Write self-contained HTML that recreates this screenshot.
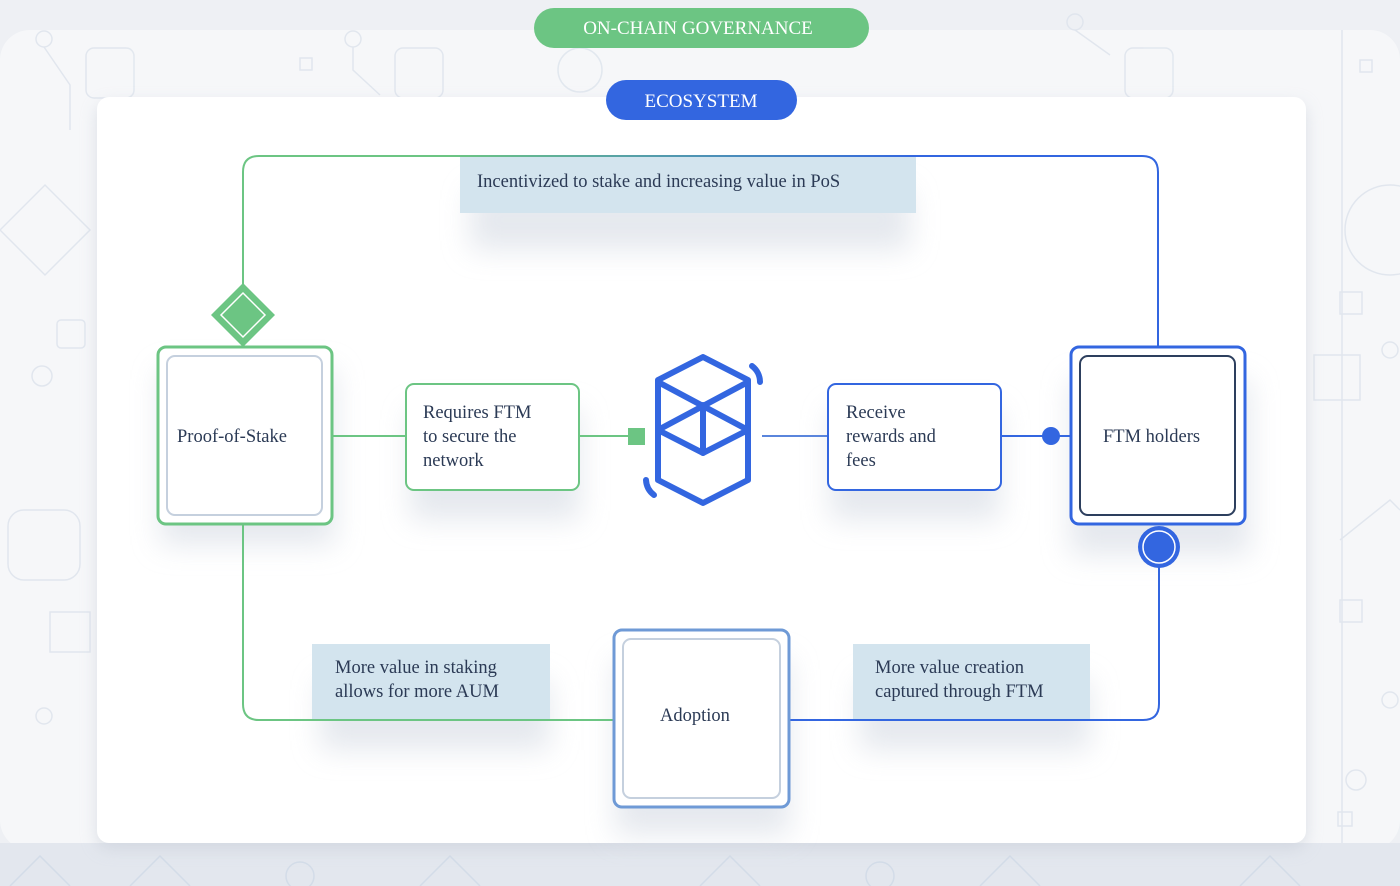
<!DOCTYPE html>
<html><head><meta charset="utf-8"><style>
html,body{margin:0;padding:0;width:1400px;height:886px;overflow:hidden;background:#eef0f4;}
svg{display:block}
text{font-family:"Liberation Serif",serif;fill:#2b3a55;font-size:18.5px;}
</style></head><body>
<svg width="1400" height="886" viewBox="0 0 1400 886" xmlns="http://www.w3.org/2000/svg">
<defs>
<linearGradient id="top" gradientUnits="userSpaceOnUse" x1="450" y1="0" x2="920" y2="0">
<stop offset="0" stop-color="#6cc583"/><stop offset="1" stop-color="#3366e0"/></linearGradient>
<filter id="sh" x="-30%" y="-30%" width="160%" height="170%"><feGaussianBlur stdDeviation="14"/></filter>
<filter id="cs" x="-5%" y="-5%" width="110%" height="115%"><feGaussianBlur stdDeviation="8"/></filter>
</defs>
<rect x="0" y="30" width="1400" height="820" rx="30" fill="#f6f7f9"/>
<g fill="none" stroke="#dde3ec" stroke-width="1.5" opacity="0.8">
<circle cx="44" cy="39" r="8"/><rect x="86" y="48" width="48" height="50" rx="8"/>
<rect x="395" y="48" width="48" height="50" rx="8"/><circle cx="353" cy="39" r="8"/>
<path d="M353 47 L353 70 L380 95"/><path d="M44 47 L70 85 L70 130"/>
<circle cx="580" cy="70" r="22"/><rect x="1125" y="48" width="48" height="50" rx="8"/>
<circle cx="1075" cy="22" r="8"/><path d="M1075 30 L1110 55"/>
<path d="M0 230 L45 185 L90 230 L45 275 Z"/><rect x="8" y="510" width="72" height="70" rx="16"/>
<rect x="57" y="320" width="28" height="28" rx="4"/><circle cx="42" cy="376" r="10"/>
<circle cx="44" cy="716" r="8"/><rect x="50" y="612" width="40" height="40"/>
<path d="M1342 30 L1342 860"/><circle cx="1390" cy="230" r="45"/>
<rect x="1340" y="292" width="22" height="22"/><rect x="1314" y="355" width="46" height="45"/>
<circle cx="1390" cy="350" r="8"/><path d="M1340 540 L1390 500 L1400 510"/>
<rect x="1340" y="600" width="22" height="22"/><circle cx="1390" cy="700" r="8"/>
<circle cx="1356" cy="780" r="10"/><rect x="1338" y="812" width="14" height="14"/>
<rect x="300" y="58" width="12" height="12"/><rect x="1360" y="60" width="12" height="12"/>
</g>
<rect x="0" y="843" width="1400" height="43" fill="#e3e7ee"/>
<g fill="none" stroke="#d3dce8" stroke-width="1.5">
<path d="M10 886 L40 856 L70 886 M130 886 L160 856 L190 886 M420 886 L450 856 L480 886 M700 886 L730 856 L760 886 M980 886 L1010 856 L1040 886 M1240 886 L1270 856 L1300 886"/>
<circle cx="300" cy="876" r="14"/><circle cx="880" cy="876" r="14"/>
</g>
<rect x="97" y="104" width="1209" height="745" rx="12" fill="#c8ced8" filter="url(#cs)" opacity="0.6"/>
<rect x="97" y="97" width="1209" height="746" rx="12" fill="#ffffff"/>

<rect x="534" y="8" width="335" height="40" rx="20" fill="#6cc583"/>
<text x="698" y="34" text-anchor="middle" style="fill:#fff;font-size:19px">ON-CHAIN GOVERNANCE</text>
<rect x="606" y="80" width="191" height="40" rx="20" fill="#3366e0"/>
<text x="701" y="107" text-anchor="middle" style="fill:#fff;font-size:19px">ECOSYSTEM</text>

<g fill="#dfe3ea" filter="url(#sh)" opacity="0.8">
<rect x="470" y="190" width="440" height="60"/>
<rect x="160" y="370" width="175" height="175"/>
<rect x="410" y="410" width="170" height="110"/>
<rect x="830" y="410" width="170" height="110"/>
<rect x="1070" y="380" width="180" height="175"/>
<rect x="320" y="680" width="230" height="70"/>
<rect x="860" y="680" width="230" height="70"/>
<rect x="615" y="660" width="175" height="175"/>
</g>

<path d="M243 300 L243 172 Q243 156 259 156 L1142 156 Q1158 156 1158 172 L1158 347" fill="none" stroke="url(#top)" stroke-width="2"/>
<rect x="460" y="157" width="456" height="56" fill="#d3e4ee"/>
<text x="477" y="187">Incentivized to stake and increasing value in PoS</text>

<path d="M243 524 L243 704 Q243 720 259 720 L614 720" fill="none" stroke="#6cc583" stroke-width="2"/>
<path d="M1159 567 L1159 704 Q1159 720 1143 720 L789 720" fill="none" stroke="#3366e0" stroke-width="2"/>
<rect x="312" y="644" width="238" height="75" fill="#d3e4ee"/>
<text x="335" y="673">More value in staking</text>
<text x="335" y="697">allows for more AUM</text>
<rect x="853" y="644" width="237" height="75" fill="#d3e4ee"/>
<text x="875" y="673">More value creation</text>
<text x="875" y="697">captured through FTM</text>

<path d="M243 283 L275 315 L243 347 L211 315 Z" fill="#6cc583"/>
<path d="M243 293 L265 315 L243 337 L221 315 Z" fill="none" stroke="#fff" stroke-width="1.5"/>

<rect x="158" y="347" width="174" height="177" rx="8" fill="#fff" stroke="#6cc583" stroke-width="3"/>
<rect x="167" y="356" width="155" height="159" rx="8" fill="#fff" stroke="#c5d0de" stroke-width="2"/>
<text x="177" y="442">Proof-of-Stake</text>

<line x1="332" y1="436" x2="405" y2="436" stroke="#6cc583" stroke-width="2"/>
<rect x="406" y="384" width="173" height="106" rx="8" fill="#fff" stroke="#6cc583" stroke-width="2"/>
<text x="423" y="418">Requires FTM</text>
<text x="423" y="442">to secure the</text>
<text x="423" y="466">network</text>
<line x1="579" y1="436" x2="630" y2="436" stroke="#6cc583" stroke-width="2"/>
<rect x="628" y="428" width="17" height="17" fill="#6cc583"/>

<g fill="none" stroke="#3366e0" stroke-width="6" stroke-linejoin="round" stroke-linecap="round">
<path d="M703 357 L748 380 L748 480 L703 503 L658 480 L658 380 Z"/>
<path d="M658 382 L748 430 L703 453 L658 430 L748 382"/>
<path d="M703 405 L703 453"/>
<path d="M752 366 A20 20 0 0 1 760 382"/>
<path d="M646 480 A20 20 0 0 0 654 495"/>
</g>

<line x1="762" y1="436" x2="828" y2="436" stroke="#5a85dc" stroke-width="2"/>
<rect x="828" y="384" width="173" height="106" rx="8" fill="#fff" stroke="#3366e0" stroke-width="2"/>
<text x="846" y="418">Receive</text>
<text x="846" y="442">rewards and</text>
<text x="846" y="466">fees</text>
<line x1="1001" y1="436" x2="1070" y2="436" stroke="#3366e0" stroke-width="2"/>
<circle cx="1051" cy="436" r="9" fill="#3366e0"/>

<rect x="1071" y="347" width="174" height="177" rx="8" fill="#fff" stroke="#3366e0" stroke-width="3"/>
<rect x="1080" y="356" width="155" height="159" rx="8" fill="#fff" stroke="#2d3f5e" stroke-width="2"/>
<text x="1103" y="442">FTM holders</text>
<circle cx="1159" cy="547" r="21" fill="#3366e0"/>
<circle cx="1159" cy="547" r="16" fill="none" stroke="#fff" stroke-width="1.5"/>

<rect x="614" y="630" width="175" height="177" rx="8" fill="#fff" stroke="#6f9ad6" stroke-width="3"/>
<rect x="623" y="639" width="157" height="159" rx="8" fill="#fff" stroke="#c5d0de" stroke-width="2"/>
<text x="695" y="721" text-anchor="middle">Adoption</text>
</svg>
</body></html>
